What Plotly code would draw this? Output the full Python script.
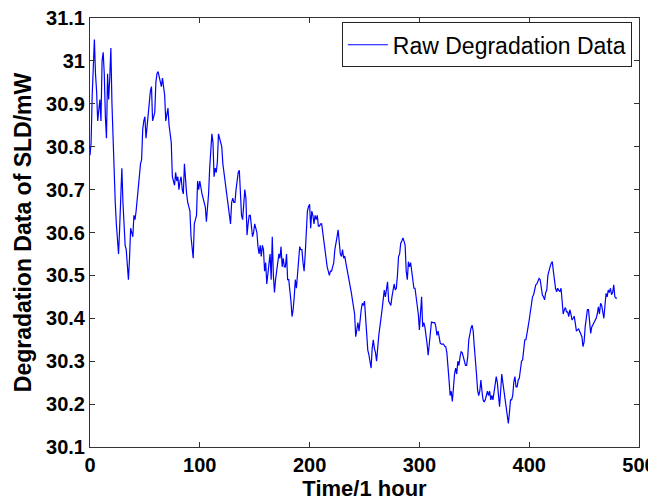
import plotly.graph_objects as go

# Raw degradation data (mW), one sample per hour, t = 0..480
degradation = [
    30.78, 30.81, 30.92, 30.98, 31.05, 30.97, 30.93, 30.86, 30.88, 30.91,
    30.86, 31.00, 31.02, 30.97, 30.87, 30.82, 30.97, 30.91, 30.96, 31.03,
    30.90, 30.82, 30.71, 30.67, 30.62, 30.59, 30.55, 30.61, 30.70, 30.75,
    30.67, 30.60, 30.57, 30.56, 30.53, 30.49, 30.54, 30.61, 30.60, 30.59,
    30.64, 30.63, 30.65, 30.68, 30.70, 30.74, 30.76, 30.77, 30.84, 30.86,
    30.87, 30.82, 30.85, 30.88, 30.91, 30.93, 30.94, 30.86, 30.87, 30.88,
    30.95, 30.97, 30.975, 30.96, 30.95, 30.94, 30.96, 30.93, 30.92, 30.86,
    30.88, 30.89, 30.85, 30.83, 30.81, 30.73, 30.72, 30.71, 30.74, 30.72,
    30.73, 30.70, 30.72, 30.73, 30.70, 30.69, 30.76, 30.71, 30.69, 30.67,
    30.66, 30.65, 30.59, 30.57, 30.54, 30.62, 30.63, 30.64, 30.72, 30.70,
    30.72, 30.70, 30.69, 30.68, 30.67, 30.66, 30.625, 30.66, 30.69, 30.75,
    30.81, 30.83, 30.81, 30.73, 30.75, 30.74, 30.765, 30.83, 30.82, 30.81,
    30.80, 30.76, 30.745, 30.72, 30.70, 30.68, 30.66, 30.64, 30.62, 30.67,
    30.68, 30.67, 30.67, 30.70, 30.73, 30.74, 30.745, 30.68, 30.64, 30.63,
    30.66, 30.70, 30.68, 30.594, 30.62, 30.64, 30.64, 30.62, 30.59, 30.60,
    30.62, 30.61, 30.60, 30.567, 30.55, 30.57, 30.544, 30.57, 30.56, 30.51,
    30.53, 30.48, 30.50, 30.52, 30.55, 30.49, 30.59, 30.50, 30.46, 30.49,
    30.51, 30.53, 30.55, 30.54, 30.567, 30.52, 30.54, 30.52, 30.52, 30.55,
    30.49, 30.49, 30.47, 30.44, 30.404, 30.42, 30.45, 30.49, 30.47, 30.497,
    30.53, 30.567, 30.56, 30.56, 30.53, 30.51, 30.55, 30.60, 30.65, 30.66,
    30.666, 30.61, 30.65, 30.64, 30.62, 30.64, 30.63, 30.64, 30.615, 30.615,
    30.62, 30.62, 30.60, 30.575, 30.55, 30.54, 30.52, 30.51, 30.50, 30.51,
    30.51, 30.52, 30.53, 30.56, 30.58, 30.59, 30.606, 30.57, 30.55, 30.544,
    30.56, 30.54, 30.545, 30.53, 30.517, 30.50, 30.49, 30.47, 30.46, 30.443,
    30.424, 30.41, 30.357, 30.38, 30.39, 30.37, 30.40, 30.42, 30.435, 30.43,
    30.44, 30.40, 30.357, 30.326, 30.315, 30.296, 30.284, 30.33, 30.35, 30.33,
    30.32, 30.30, 30.34, 30.36, 30.38, 30.41, 30.42, 30.443, 30.466, 30.45,
    30.47, 30.485, 30.44, 30.435, 30.43, 30.45, 30.47, 30.48, 30.466, 30.47,
    30.50, 30.544, 30.55, 30.575, 30.58, 30.587, 30.58, 30.57, 30.51, 30.49,
    30.532, 30.52, 30.53, 30.51, 30.50, 30.47, 30.47, 30.45, 30.43, 30.41,
    30.373, 30.42, 30.45, 30.38, 30.39, 30.38, 30.35, 30.34, 30.314, 30.34,
    30.37, 30.392, 30.39, 30.39, 30.39, 30.38, 30.36, 30.37, 30.35, 30.342,
    30.34, 30.34, 30.34, 30.335, 30.334, 30.32, 30.296, 30.256, 30.22, 30.23,
    30.206, 30.24, 30.27, 30.284, 30.27, 30.30, 30.29, 30.31, 30.322, 30.32,
    30.31, 30.30, 30.29, 30.29, 30.31, 30.35, 30.37, 30.377, 30.384, 30.37,
    30.334, 30.31, 30.27, 30.233, 30.22, 30.23, 30.256, 30.23, 30.21, 30.205,
    30.21, 30.22, 30.23, 30.22, 30.23, 30.21, 30.22, 30.21, 30.23, 30.252,
    30.264, 30.25, 30.21, 30.194, 30.23, 30.27, 30.25, 30.23, 30.217, 30.186,
    30.175, 30.155, 30.18, 30.21, 30.21, 30.22, 30.252, 30.264, 30.24, 30.24,
    30.256, 30.26, 30.28, 30.30, 30.303, 30.326, 30.35, 30.35, 30.37, 30.38,
    30.396, 30.415, 30.435, 30.45, 30.455, 30.468, 30.478, 30.48, 30.488, 30.493,
    30.49, 30.47, 30.454, 30.45, 30.443, 30.46, 30.466, 30.50, 30.513, 30.52,
    30.528, 30.532, 30.51, 30.482, 30.47, 30.462, 30.47, 30.465, 30.462, 30.47,
    30.435, 30.41, 30.42, 30.425, 30.415, 30.415, 30.404, 30.42, 30.41, 30.396,
    30.40, 30.405, 30.388, 30.37, 30.373, 30.375, 30.369, 30.36, 30.357, 30.334,
    30.345, 30.38, 30.40, 30.42, 30.42, 30.38, 30.365, 30.38, 30.385, 30.39,
    30.396, 30.40, 30.41, 30.427, 30.41, 30.435, 30.43, 30.415, 30.40, 30.43,
    30.458, 30.45, 30.466, 30.46, 30.47, 30.455, 30.46, 30.478, 30.45, 30.447,
    30.447,
]
hours = list(range(len(degradation)))

x_ticks = [0, 100, 200, 300, 400, 500]
y_ticks = [30.1, 30.2, 30.3, 30.4, 30.5, 30.6, 30.7, 30.8, 30.9, 31.0, 31.1]
y_tick_labels = ["30.1", "30.2", "30.3", "30.4", "30.5", "30.6", "30.7", "30.8", "30.9", "31", "31.1"]

FONT = "Liberation Sans, Arial, sans-serif"

fig = go.Figure()
fig.add_trace(go.Scatter(
    x=hours, y=degradation, mode="lines",
    name="Raw Degradation Data",
    line=dict(color="#0000FF", width=1.2),
))

axis_common = dict(
    showline=True, linecolor="#333333", linewidth=1, mirror="allticks",
    ticks="inside", ticklen=5, tickcolor="#333333", tickwidth=1,
    showgrid=False, zeroline=False, automargin=False,
    ticklabeloverflow="allow",
    tickfont=dict(family=FONT, size=20, color="black", weight="bold"),
)

# The page body adds an 8px offset, so the figure is sized to fit the window.
fig.update_layout(
    width=648, height=493,
    margin=dict(l=82, r=17, t=10, b=54),
    paper_bgcolor="white", plot_bgcolor="white",
    font=dict(family=FONT, color="black"),
    showlegend=True,
    legend=dict(
        x=0.987, y=0.99, xanchor="right", yanchor="top",
        bgcolor="white", bordercolor="#222222", borderwidth=1,
        font=dict(family=FONT, size=23, color="black"),
        itemwidth=40,
    ),
    xaxis=dict(
        range=[0, 500], tickvals=x_ticks,
        title=dict(text="Time/1 hour", standoff=2,
                   font=dict(family=FONT, size=22, color="black", weight="bold")),
        **axis_common,
    ),
    yaxis=dict(
        range=[30.1, 31.1], tickvals=y_ticks, ticktext=y_tick_labels,
        title=dict(text="Degradation Data of SLD/mW", standoff=8,
                   font=dict(family=FONT, size=23, color="black", weight="bold")),
        **axis_common,
    ),
)

fig.write_html("out.html")
